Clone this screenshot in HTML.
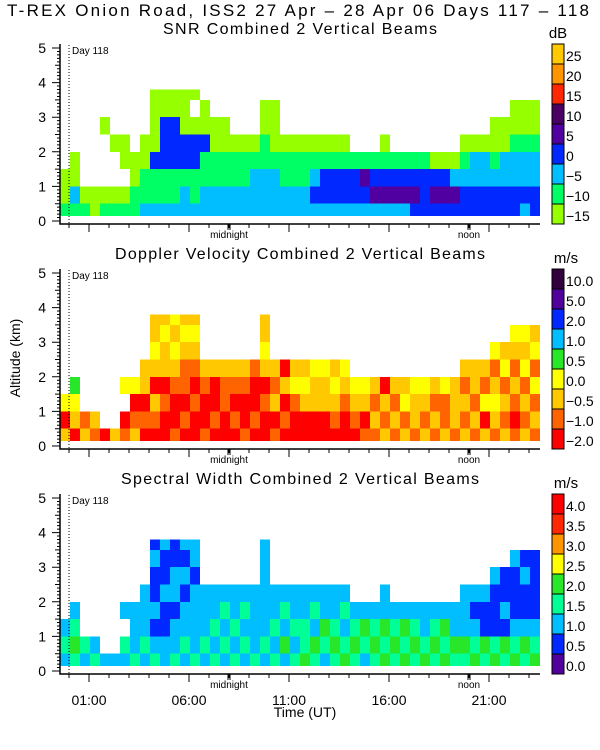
<!DOCTYPE html>
<html><head><meta charset="utf-8"><style>
body{margin:0;background:#fff;}
svg{display:block;font-family:"Liberation Sans",sans-serif;}
</style></head><body>
<svg id="chart" width="600" height="750" viewBox="0 0 600 750" xmlns="http://www.w3.org/2000/svg">
<text x="7" y="16" font-size="17" textLength="582" lengthAdjust="spacing">T-REX Onion Road, ISS2  27 Apr – 28 Apr 06 Days 117 – 118</text>
<text transform="translate(20,358) rotate(-90)" text-anchor="middle" font-size="14">Altitude (km)</text>
<text x="305" y="717" text-anchor="middle" font-size="14">Time (UT)</text>
<g id="panels"></g>
</svg>
<script>
// time of each column (hours UT, relative to 00:00 of day 118), 0.5h wide
const colTimes = [];
for (let i = 0; i < 48; i++) colTimes.push(-0.45 + i * 0.5);
// altitude layer bottoms/tops (km)
const layerBottoms = [0.15, 0.5, 1.0, 1.5, 2.0, 2.5, 3.0, 3.5];
const layerTops = [0.5, 1.0, 1.5, 2.0, 2.5, 3.0, 3.5, 3.8];
// per-column color-class strings, bottom to top ('.' = no echo)
const snrCols = ["100.....","1200....","10......","00......","10...0..","10..0...","10.00...","1100....","21100...","21130000",
"21133300","21133300","22133000","211330.0","2211300.","221100..","221100..","22110...","22110...","22210...",
"2221100.","2221000.","22110...","22110...","22110...","23210...","23310...","23310...","23310...","2331....",
"2341....","2431....","24310...","2431....","2431....","3431....","3331....","3430....","3430....","3420....",
"33210...","33220...","33220...","332100..","332200..","3322100.","2322100.","3322100."];
const dopCols = ["203.....","0234....","21......","12......","0.......","2.......","10.3....","2103....","01022...","01202322",
"00102232","10012323","01011232","00101232","10012...","01002...","00112...","01012...","10012...","01001...",
"00102322","10212...","01020...","00132...","00232...","00223...","00223...","01232...","00123...","0123....",
"1023....","1212....","2120....","1212....","2132....","1223....","2123....","1212....","2113....","1222....",
"21212...","12122...","20312...","123213..","212132..","1012123.","2121323.","1213132."];
const widCols = ["232.....","3432....","23......","32......","2.......","2.......","23.2....","3222....","23222...","32121121",
"22112112","32212211","23221212","32222122","23222...","32322...","23232...","32322...","23232...","32222...",
"23222222","32322...","24232...","32322...","43322...","34232...","23422...","34322...","43232...","3432....",
"2342....","3432....","43422...","3432....","4342....","3432....","4322....","3432....","4342....","3422....",
"34222...","43212...","34112...","431112..","341211..","4321112.","3421121.","4321111."];
// colorbar classes and labels, low to high
const snrLabels = ["−15","−10","−5","0","5","10","15","20","25"];
const dopLabels = ["−2.0","−1.0","−0.5","0.0","0.5","1.0","2.0","5.0","10.0"];
const widLabels = ["0.0","0.5","1.0","1.5","2.0","2.5","3.0","3.5","4.0"];
const snrColors = ["#96ff00","#00ff64","#00beff","#0028ff","#5000a0","#4b0064","#ff2800","#ff9600","#ffc800"];
const dopColors = ["#ff0000","#ff6400","#ffc800","#ffff00","#28e628","#00beff","#0028ff","#50009b","#32003c"];
const widColors = ["#50009b","#0028ff","#00beff","#00ff96","#28e628","#ffff00","#ff9600","#ff2800","#ff0000"];
const xTickHours = [1, 6, 11, 16, 21];
const xTickLabels = ["01:00","06:00","11:00","16:00","21:00"];
const yTicks = [0, 1, 2, 3, 4, 5];

const NS = "http://www.w3.org/2000/svg";
const root = document.getElementById("panels");
function mk(tag, attrs, parent) {
  const e = document.createElementNS(NS, tag);
  for (const k in attrs) e.setAttribute(k, attrs[k]);
  (parent || root).appendChild(e);
  return e;
}
const X0 = 60, X1 = 540;
function xScale(h) { return 69 + h * 20; }

const panels = [
  {name:"snr", title:"SNR Combined 2 Vertical Beams", tlen:274, unit:"dB", cols:snrCols, colors:snrColors, labels:snrLabels, top:48, unitX:558},
  {name:"doppler", title:"Doppler Velocity Combined 2 Vertical Beams", tlen:370, unit:"m/s", cols:dopCols, colors:dopColors, labels:dopLabels, top:273, unitX:566},
  {name:"width", title:"Spectral Width Combined 2 Vertical Beams", tlen:358, unit:"m/s", cols:widCols, colors:widColors, labels:widLabels, top:498, unitX:566}
];

panels.forEach((p, pi) => {
  const g = mk("g", {});
  
  
  const kmPx = 34.6;
  const y0 = p.top + 5 * kmPx;
  const yScale = km => y0 - km * kmPx;
  const t = mk("text", {x:300 - p.tlen / 2, y:p.top - 14, "font-size":"16", textLength:p.tlen, lengthAdjust:"spacing"}, g);
  t.textContent = p.title;
  
  
  const cg = mk("g", {"shape-rendering":"crispEdges"}, g);
  
  
  p.cols.forEach((s, i) => {
    const xa = xScale(colTimes[i]), xb = Math.min(xScale(colTimes[i] + 0.5), X1);
    for (let l = 0; l < s.length; l++) {
      const c = s[l];
      if (c === ".") continue;
      const r = mk("rect", {x:xa, y:yScale(layerTops[l]), width:xb - xa, height:yScale(layerBottoms[l]) - yScale(layerTops[l]), fill:p.colors[+c]}, cg);
      
      
    }
  });
  const dl = mk("line", {x1:xScale(0), x2:xScale(0), y1:p.top - 3, y2:y0 + 3, stroke:"#000", "stroke-dasharray":"1,2"}, g);
  
  
  const dt = mk("text", {x:xScale(0) + 3, y:p.top + 6, "font-size":"10"}, g);
  dt.textContent = "Day 118";
  
  
  const ax = mk("path", {d:`M${X0},${p.top - 4}V${y0 + 3}H${X1}`, stroke:"#000", fill:"none", "stroke-width":"1.5"}, g);
  
  
  let d = "";
  for (let k = 0; k <= 50; k++) { const y = yScale(k / 10); d += `M${X0},${y}h${k % 10 === 0 ? -8 : (k % 5 === 0 ? -5 : -3)}`; }
  for (let h = 0; h <= 23; h++) { const x = xScale(h); d += `M${x},${y0 + 3}v${xTickHours.includes(h) ? 8 : 4}`; }
  d += `M${xScale(8) - 1},${y0 + 3}v6M${xScale(8) + 1},${y0 + 3}v6M${xScale(20) - 1},${y0 + 3}v6M${xScale(20) + 1},${y0 + 3}v6`;
  const tk = mk("path", {d:d, stroke:"#000", fill:"none"}, g);
  
  
  yTicks.forEach(v => {
    const tl = mk("text", {x:46, y:yScale(v) + 5, "text-anchor":"end", "font-size":"14"}, g);
    tl.textContent = v;
    
    
  });
  [["midnight", 8], ["noon", 20]].forEach(([lab, h]) => {
    const tl = mk("text", {x:xScale(h), y:y0 + 17, "text-anchor":"middle", "font-size":"10"}, g);
    tl.textContent = lab;
    
    
  });
  if (pi === 2) xTickHours.forEach((h, i) => {
    const tl = mk("text", {x:xScale(h), y:y0 + 34, "text-anchor":"middle", "font-size":"14"}, g);
    tl.textContent = xTickLabels[i];
    
    
  });
  const cb = mk("g", {}, g);
  
  
  const cbTop = p.top - 4, bh = 20;
  for (let k = 0; k < 9; k++) {
    const y = cbTop + (8 - k) * bh;
    const r = mk("rect", {x:552, y:y, width:12, height:bh, fill:p.colors[k], stroke:"#000", "stroke-width":"1"}, cb);
    
    
    const tl = mk("text", {x:566, y:y + bh - 3, "font-size":"14"}, cb);
    tl.textContent = p.labels[k];
    
    
  }
  const u = mk("text", {x:p.unitX, y:cbTop - 6, "text-anchor":"middle", "font-size":"15"}, cb);
  u.textContent = p.unit;
  
  
});
</script>
</body></html>
